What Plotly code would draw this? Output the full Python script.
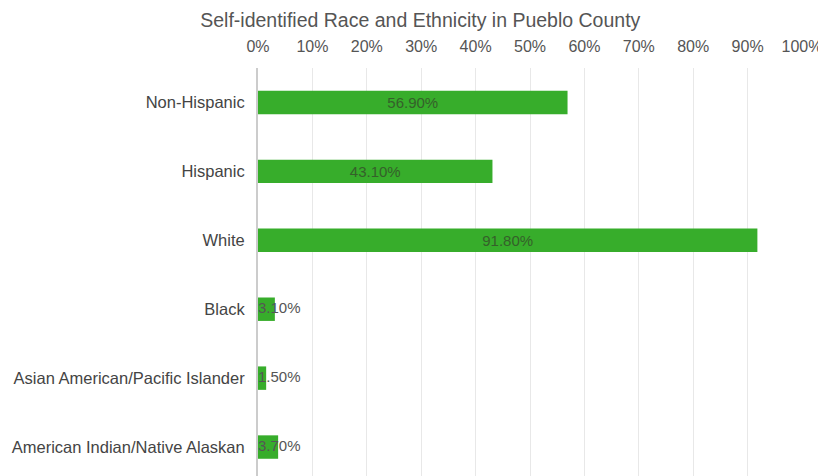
import plotly.graph_objects as go

# data
groups = [
    "Non-Hispanic",
    "Hispanic",
    "White",
    "Black",
    "Asian American/Pacific Islander",
    "American Indian/Native Alaskan",
]
shares = [56.9, 43.1, 91.8, 3.1, 1.5, 3.7]
tick_vals = [0, 10, 20, 30, 40, 50, 60, 70, 80, 90, 100]
tick_text = [f"{v}%" for v in tick_vals]

green = "#37ad2b"
labels = [f"{v:.2f}%" for v in shares]
big = [v >= 10 for v in shares]

fig = go.Figure()
fig.add_trace(go.Bar(
    y=groups,
    x=shares,
    orientation="h",
    marker=dict(color=green, line=dict(width=0)),
    width=0.34,
    text=[t if b else "" for t, b in zip(labels, big)],
    textposition="inside",
    insidetextanchor="middle",
    textfont=dict(color="#35602a", size=15),
    hoverinfo="skip",
))
# small bars: label starts at the axis and runs over the bar
small_y = [g for g, b in zip(groups, big) if not b]
small_t = [t for t, b in zip(labels, big) if not b]
fig.add_trace(go.Scatter(
    y=small_y,
    x=[0] * len(small_y),
    mode="text",
    text=small_t,
    textposition="middle right",
    textfont=dict(color="#555", size=15),
    hoverinfo="skip",
    cliponaxis=False,
))

# page body has an 8px margin, so the figure is sized to the visible area
fig.update_layout(
    width=818,
    height=468,
    paper_bgcolor="white",
    plot_bgcolor="white",
    showlegend=False,
    font=dict(family="Liberation Sans, Arial, sans-serif", color="#555", size=16),
    title=dict(
        text="Self-identified Race and Ethnicity in Pueblo County",
        x=0.504, xanchor="center",
        y=0.975, yanchor="middle",
        font=dict(size=19.5, color="#555"),
    ),
    margin=dict(l=250, r=24, t=60, b=0, autoexpand=False),
)
fig.update_xaxes(
    side="top",
    range=[0, 100],
    tickvals=tick_vals,
    ticktext=tick_text,
    showgrid=True,
    gridcolor="#e8e8e8",
    gridwidth=1,
    zeroline=False,
    showline=False,
    ticks="",
    ticklabelstandoff=12,
    tickfont=dict(size=16, color="#555"),
    fixedrange=True,
)
fig.update_yaxes(
    range=[5.42, -0.5],
    showgrid=False,
    showline=True,
    linecolor="#cccccc",
    linewidth=2,
    ticks="",
    ticklabelstandoff=8,
    tickfont=dict(size=16.5, color="#444"),
    fixedrange=True,
)

fig.write_html("out.html")
